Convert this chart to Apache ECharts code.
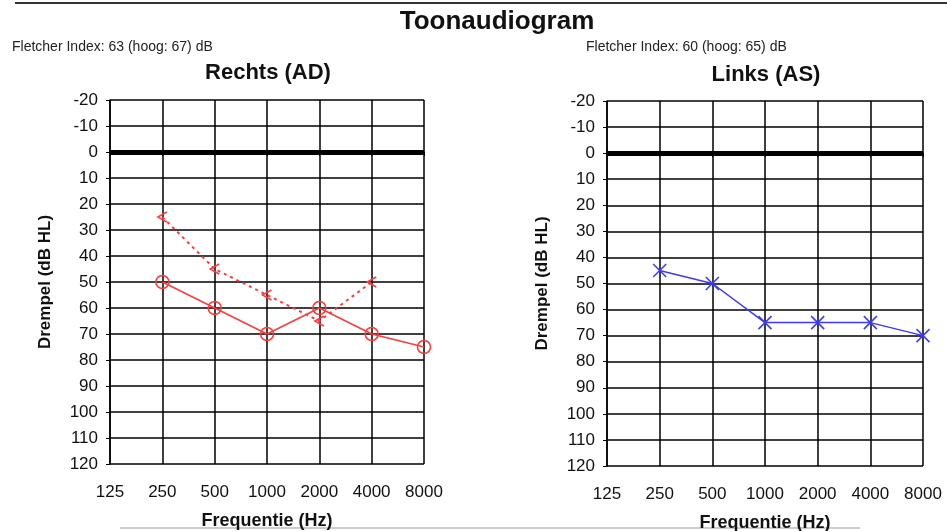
<!DOCTYPE html>
<html>
<head>
<meta charset="utf-8">
<script src="https://cdn.jsdelivr.net/npm/echarts@6/dist/echarts.min.js"></script>
<style>
  html, body { margin: 0; padding: 0; background: #fff; }
  #chart { width: 947px; height: 531px; }
</style>
</head>
<body>
<div id="chart"></div>
<script>
// frequenties (Hz) en drempels (dB HL)
var freqs = ['125', '250', '500', '1000', '2000', '4000', '8000'];
var yTicks = [-20, 120, 10]; // min, max, interval
var rechtsLucht = [null, 50, 60, 70, 60, 70, 75];   // AD luchtgeleiding (o)
var rechtsBeen = [null, 25, 45, 55, 65, 50, null];  // AD beengeleiding (<)
var linksLucht = [null, 45, 50, 65, 65, 65, 70];    // AS luchtgeleiding (x)

var red = '#ff3b3b';
var blue = '#3a3aff';
var sans = '"Liberation Sans", Arial, sans-serif';

function makeX(idx) {
	return {
		type: 'category',
		gridIndex: idx,
		data: freqs,
		boundaryGap: false,
		name: 'Frequentie (Hz)',
		nameLocation: 'middle',
		nameGap: 48,
		nameTextStyle: { fontFamily: sans, fontWeight: 'bold', fontSize: 18, color: '#111' },
		axisLine: { show: true, lineStyle: { color: '#000', width: 1.5 } },
		axisTick: { show: true, alignWithLabel: true, length: 4, lineStyle: { color: '#000' } },
		axisLabel: { interval: 0, margin: 20, fontFamily: sans, fontSize: 17, color: '#111' },
		splitLine: { show: true, lineStyle: { color: '#000', width: 1.5 } }
	};
}

function makeY(idx) {
	return {
		type: 'value',
		gridIndex: idx,
		inverse: true,
		min: yTicks[0],
		max: yTicks[1],
		interval: yTicks[2],
		name: 'Drempel (dB HL)',
		nameLocation: 'middle',
		nameRotate: 90,
		nameGap: 56,
		nameTextStyle: { fontFamily: sans, fontWeight: 'bold', fontSize: 17, color: '#111' },
		axisLine: { show: true, lineStyle: { color: '#000', width: 1.5 } },
		axisTick: { show: true, length: 4, lineStyle: { color: '#000' } },
		axisLabel: { margin: 12, fontFamily: sans, fontSize: 17, color: '#111' },
		splitLine: { show: true, lineStyle: { color: '#000', width: 1.5 } }
	};
}

// dikke nul-lijn
var nulLijn = {
	silent: true,
	symbol: 'none',
	label: { show: false },
	lineStyle: { color: '#000', width: 5, type: 'solid' },
	data: [{ yAxis: 0 }]
};

var chart = echarts.init(document.getElementById('chart'));
chart.setOption({
	animation: false,
	backgroundColor: '#fff',
	title: [
		{ text: 'Toonaudiogram', left: 497, top: 9, padding: 0, textAlign: 'center',
		  textStyle: { fontFamily: sans, fontSize: 26, fontWeight: 'bold', color: '#111' } },
		{ text: 'Fletcher Index: 63 (hoog: 67) dB', left: 12, top: 40, padding: 0,
		  textStyle: { fontFamily: sans, fontSize: 14, fontWeight: 'normal', color: '#222' } },
		{ text: 'Rechts (AD)', left: 268, top: 62, padding: 0, textAlign: 'center',
		  textStyle: { fontFamily: sans, fontSize: 22, fontWeight: 'bold', color: '#111' } },
		{ text: 'Fletcher Index: 60 (hoog: 65) dB', left: 586, top: 40, padding: 0,
		  textStyle: { fontFamily: sans, fontSize: 14, fontWeight: 'normal', color: '#222' } },
		{ text: 'Links (AS)', left: 766, top: 64, padding: 0, textAlign: 'center',
		  textStyle: { fontFamily: sans, fontSize: 22, fontWeight: 'bold', color: '#111' } }
	],
	graphic: [
		{ type: 'line', shape: { x1: 15, y1: 3, x2: 947, y2: 3 }, style: { stroke: '#333', lineWidth: 2 } },
		{ type: 'line', shape: { x1: 120, y1: 528, x2: 860, y2: 528 }, style: { stroke: '#bbb', lineWidth: 1.5 } }
	],
	grid: [
		{ left: 110, top: 100, width: 314, height: 364, outerBoundsMode: 'none', containLabel: false },
		{ left: 607, top: 101, width: 316, height: 365, outerBoundsMode: 'none', containLabel: false }
	],
	xAxis: [makeX(0), makeX(1)],
	yAxis: [makeY(0), makeY(1)],
	series: [
		{
			name: 'AD lucht',
			type: 'line',
			xAxisIndex: 0, yAxisIndex: 0,
			data: rechtsLucht,
			symbol: 'circle',
			symbolSize: 13,
			showSymbol: true,
			lineStyle: { color: red, width: 1.5 },
			itemStyle: { color: 'rgba(0,0,0,0)', borderColor: red, borderWidth: 1.5 },
			markLine: nulLijn,
			z: 5
		},
		{
			name: 'AD been',
			type: 'line',
			xAxisIndex: 0, yAxisIndex: 0,
			data: rechtsBeen,
			symbol: 'path://M10,0L0,5L10,10',
			symbolSize: [9, 10],
			lineStyle: { color: red, width: 2, type: [3, 4] },
			itemStyle: { color: 'rgba(0,0,0,0)', borderColor: red, borderWidth: 1.5 },
			z: 4
		},
		{
			name: 'AS lucht',
			type: 'line',
			xAxisIndex: 1, yAxisIndex: 1,
			data: linksLucht,
			symbol: 'path://M0,0L10,10M10,0L0,10',
			symbolSize: 13,
			lineStyle: { color: blue, width: 1.5 },
			itemStyle: { color: 'rgba(0,0,0,0)', borderColor: blue, borderWidth: 1.5 },
			markLine: nulLijn,
			z: 5
		}
	]
});
</script>
</body>
</html>
